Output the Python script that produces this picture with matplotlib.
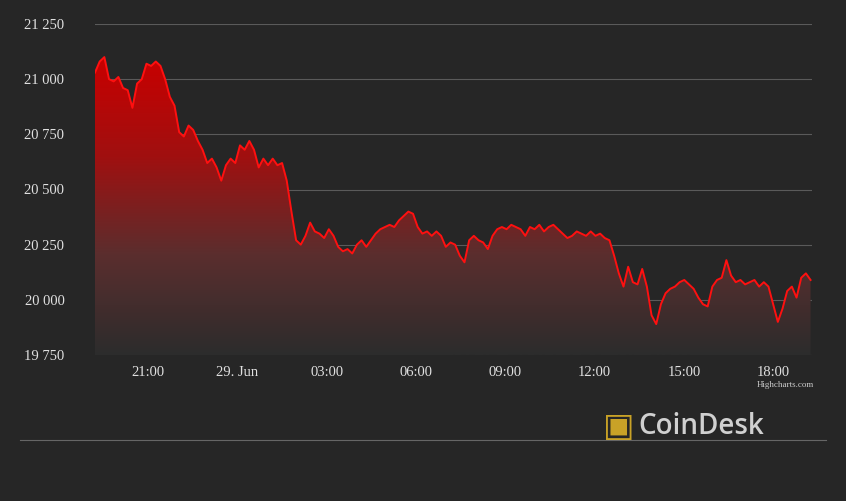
import matplotlib
matplotlib.use("Agg")
import matplotlib.pyplot as plt
import matplotlib.dates as mdates
import numpy as np
import pandas as pd
from matplotlib.colors import LinearSegmentedColormap

prices = [21030,21080,21100,21000,20990,21010,20960,20950,20870,20980,21000,21070,21060,21080,21060,
21000,20920,20880,20760,20740,20790,20770,20720,20680,20620,20640,20600,20540,20610,20640,20620,
20700,20680,20720,20680,20600,20640,20610,20640,20610,20620,20540,20400,20270,20250,20290,20350,
20310,20300,20280,20320,20290,20240,20220,20230,20210,20250,20270,20240,20270,20300,20320,20330,
20340,20330,20360,20380,20400,20390,20330,20300,20310,20290,20310,20290,20240,20260,20250,20200,
20170,20270,20290,20270,20260,20230,20290,20320,20330,20320,20340,20330,20320,20290,20330,20320,
20340,20310,20330,20340,20320,20300,20280,20290,20310,20300,20290,20310,20290,20300,20280,20270,
20200,20120,20060,20150,20080,20070,20140,20060,19930,19890,19980,20030,20050,20060,20080,20090,
20070,20050,20010,19980,19970,20060,20090,20100,20180,20110,20080,20090,20070,20080,20090,20060,
20080,20060,19980,19900,19960,20040,20060,20010,20100,20120,20090]
start, end = "2022-06-28 19:13", "2022-06-29 19:15"
times = pd.date_range(start, end, periods=len(prices))
yticks = [19750,20000,20250,20500,20750,21000,21250]
xtick_times = ["2022-06-28 21:00","2022-06-29 00:00","2022-06-29 03:00","2022-06-29 06:00",
               "2022-06-29 09:00","2022-06-29 12:00","2022-06-29 15:00","2022-06-29 18:00"]
xtick_labels = ["21:00","29. Jun","03:00","06:00","09:00","12:00","15:00","18:00"]

bg = "#262626"
fig = plt.figure(figsize=(8.46,5.01), dpi=100, facecolor=bg)
ax = fig.add_axes([95/846, 1-355/501, 717/846, 331/501], facecolor=bg)
x = mdates.date2num(times)
for yt in yticks:
    ax.axhline(yt, color="#5a5a5a", lw=0.8, zorder=0)
poly = ax.fill_between(x, prices, 19750, color="none", lw=0)
cmap = LinearSegmentedColormap.from_list("g", ["#2c2c2c", "#5a2e2e", "#a01010", "#c80000"])
grad = np.linspace(0, 1, 256).reshape(-1, 1)
im = ax.imshow(grad, extent=[x[0], x[-1], 19750, 21100], origin="lower", aspect="auto", cmap=cmap, zorder=1)
im.set_clip_path(poly.get_paths()[0], transform=ax.transData)
ax.plot(x, prices, color="#ff1010", lw=1.4, zorder=2)
ax.set_xlim(x[0], x[-1]+0.002); ax.set_ylim(19750, 21250)
for s in ax.spines.values(): s.set_visible(False)
ax.set_yticks(yticks)
ax.set_yticklabels([f"{v:,}".replace(",", " ") for v in yticks])
ax.set_xticks(mdates.date2num(pd.to_datetime(xtick_times)))
ax.set_xticklabels(xtick_labels)
ax.tick_params(length=0, colors="#e0e0e0", labelsize=10.5, pad=8)
for lab in ax.get_xticklabels()+ax.get_yticklabels():
    lab.set_family("Liberation Serif")
ax.yaxis.set_tick_params(pad=22)
fig.text(814/846, 1-385/501, "Highcharts.com", ha="right", va="center", color="#cccccc", fontsize=6.5, family="Liberation Serif")
fig.add_artist(plt.Line2D([20/846, 826/846], [1-440/501]*2, color="#666666", lw=0.8))
fig.text(603/846, 1-426/501, "\u25A3", ha="left", va="center", color="#c9a227", fontsize=24, family="DejaVu Sans")
fig.text(638/846, 1-426/501, "CoinDesk", ha="left", va="center", color="#d0d0d0", fontsize=20, weight="semibold", family="Open Sans")
fig.savefig("out.png", dpi=100, facecolor=bg)
